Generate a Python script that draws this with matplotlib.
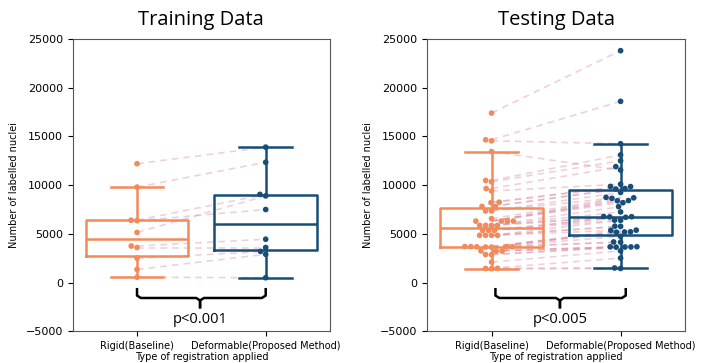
import matplotlib
matplotlib.use("Agg")
import matplotlib.pyplot as plt
import seaborn as sns
import numpy as np
import pandas as pd

categories = ["Rigid(Baseline)", "Deformable(Proposed Method)"]

# Paired samples (index i in rigid list pairs with index i in deformable list)
train_rigid = [12200, 9800, 6400, 6350, 5150, 3750, 3600, 2500, 1350, 550]
train_deform = [13900, 12350, 9050, 7500, 8900, 4450, 3600, 3200, 2900, 500]

test_rigid = [17400, 14650, 14550, 13450, 10480, 10350, 9650, 9400, 8250, 8200,
              7820, 7800, 7350, 7350, 6560, 6310, 6310, 6310, 6310, 5870,
              5870, 5870, 5870, 5360, 5360, 5360, 4850, 4850, 4850, 4850,
              3700, 3690, 3680, 3670, 3660, 3650, 3640, 3250, 3240, 3230,
              2880, 2860, 2110, 1470, 1450, 1430]
test_deform = [23800, 18600, 14250, 11550, 13100, 12500, 11900, 10100, 9870, 9850,
               9650, 9600, 9250, 8750, 8700, 8650, 8420, 8400, 8200, 7800,
               7250, 6780, 6760, 6740, 6700, 6410, 6390, 5790, 5770, 5380,
               5360, 5210, 5190, 5170, 4750, 4170, 4150, 3680, 3670, 3660,
               3650, 3640, 3250, 2520, 1500, 1450]

titles = ["Training Data", "Testing Data"]
pvalues = ["p<0.001", "p<0.005"]
yticks = [-5000, 0, 5000, 10000, 15000, 20000, 25000]

ORANGE = "#F28A5A"
BLUE = "#174E78"
PINK = "#D98BA3"

fig = plt.figure(figsize=(7.09, 3.63), dpi=100)
axes = [fig.add_axes([0.1025, 0.0873, 0.363, 0.8053]),
        fig.add_axes([0.6023, 0.0873, 0.364, 0.8053])]

datasets = [(train_rigid, train_deform), (test_rigid, test_deform)]
brackets = [(0.0, 1.0, 0.49), (0.03, 1.04, 0.53)]

for ax, (rig, dfm), title, pv, br in zip(axes, datasets, titles, pvalues, brackets):
    # pairing lines
    for a, b in zip(rig, dfm):
        ax.plot([0, 1], [a, b], color=PINK, alpha=0.4, lw=1.2,
                linestyle=(0, (4, 3)), zorder=1)
    # boxplots
    for pos, vals, col in [(0, rig, ORANGE), (1, dfm, BLUE)]:
        ax.boxplot([vals], positions=[pos], widths=0.8, showfliers=False,
                   capwidths=0.41, manage_ticks=False,
                   boxprops=dict(color=col, lw=1.8),
                   whiskerprops=dict(color=col, lw=1.8),
                   capprops=dict(color=col, lw=1.8),
                   medianprops=dict(color=col, lw=1.8), zorder=2)
    df = pd.DataFrame({"group": [categories[0]] * len(rig) + [categories[1]] * len(dfm),
                       "value": list(rig) + list(dfm)})
    sns.swarmplot(data=df, x="group", y="value", hue="group",
                  palette=[ORANGE, BLUE], size=4.1, ax=ax, legend=False, zorder=3)
    ax.set_xlim(-0.5, 1.5)
    ax.set_ylim(-5000, 25000)
    ax.set_yticks(yticks)
    ax.set_xticks([0, 1])
    ax.set_xticklabels(categories, fontsize=7)
    ax.tick_params(axis="y", labelsize=8)
    ax.set_xlabel("Type of registration applied", fontsize=7, labelpad=1)
    ax.set_ylabel("Number of labelled nuclei", fontsize=7, labelpad=5)
    for s in ax.spines.values():
        s.set_color("#555555")
    ax.set_title(title, fontsize=14.5, family="Open Sans", pad=10)

    # bracket
    x0, x1, xm = br
    ytop, ybar, ytip = -550, -1580, -2650
    r = 0.03
    xs = [x0, x0, x0 + r, xm - r, xm, xm, xm, xm + r, x1 - r, x1, x1]
    ys = [ytop, ybar + 250, ybar, ybar, ybar - 250, ytip, ybar - 250, ybar, ybar, ybar + 250, ytop]
    ax.plot(xs[:6], ys[:6], color="black", lw=1.8, solid_capstyle="butt", zorder=4)
    ax.plot(xs[5:], ys[5:], color="black", lw=1.8, solid_capstyle="butt", zorder=4)
    ax.text(xm, -3750, pv, ha="center", va="center", fontsize=10.5, family="Open Sans")

fig.savefig("out.png", dpi=100)
